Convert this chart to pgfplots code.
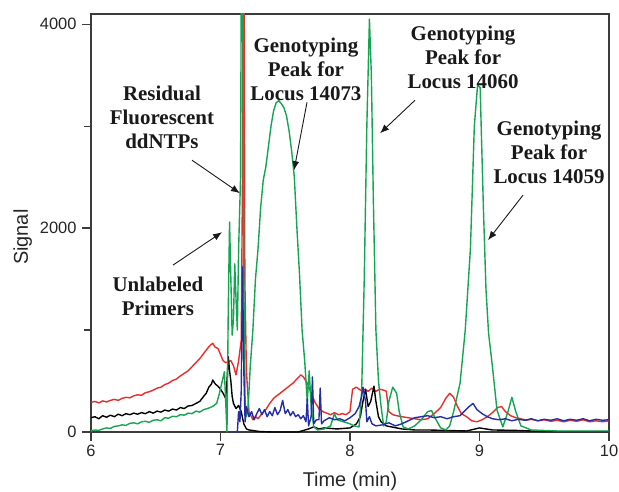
\documentclass[border=0pt]{standalone}
\usepackage{fontspec}
\setmainfont{Liberation Sans}
\newfontfamily\annfont{Liberation Serif}
\usepackage{pgfplots}
\pgfplotsset{compat=1.18}
\usetikzlibrary{arrows.meta}
\definecolor{cred}{RGB}{232,45,45}
\definecolor{cgreen}{RGB}{20,165,80}
\definecolor{cblue}{RGB}{35,45,165}
\definecolor{axc}{RGB}{60,60,60}
\begin{document}
\begin{tikzpicture}
\useasboundingbox (-91bp,-60bp) rectangle (528bp,432bp);
\begin{axis}[
  at={(0,0)}, anchor=south west,
  scale only axis, width=518bp, height=418bp,
  xmin=6, xmax=10, ymin=0, ymax=4100,
  xtick={6,7,8,9,10}, ytick={0,2000,4000}, minor ytick={1000,3000},
  tick align=outside, xtick pos=left, ytick pos=left,
  major tick length=9bp, minor tick length=7bp,
  every tick/.style={axc, line width=1.2pt},
  axis line style={axc, line width=1.4pt},
  tick label style={font=\fontsize{16.5}{16.5}\selectfont, text=black!85},
  yticklabel style={xshift=-2bp},
  /pgf/number format/assume math mode=true,
  /pgf/number format/1000 sep={},
  xlabel={Time (min)}, ylabel={Signal},
  every axis x label/.style={at={(axis description cs:0.5,-0.117)}, anchor=center, font=\fontsize{20}{20}\selectfont, text=black!85},
  every axis y label/.style={at={(axis description cs:-0.132,0.466)}, anchor=center, rotate=90, font=\fontsize{20}{20}\selectfont, text=black!85},
  every axis plot/.style={line width=1.4pt, line join=round},
  clip=true,
]
% red
\addplot[cred] coordinates {
(6.00,290)(6.03,300)(6.06,285)(6.09,305)(6.12,295)(6.15,310)(6.18,320)(6.21,310)(6.24,330)(6.27,340)(6.30,335)(6.33,355)(6.36,365)(6.39,360)(6.42,385)(6.45,395)(6.48,410)(6.51,430)(6.54,440)(6.57,465)(6.60,480)(6.63,505)(6.66,520)(6.69,550)(6.72,575)(6.75,600)(6.78,640)(6.81,680)(6.84,720)(6.87,770)(6.90,820)(6.92,850)(6.94,870)(6.96,830)(6.98,820)(7.00,760)(7.02,700)(7.04,680)(7.06,690)(7.08,700)(7.10,650)(7.12,560)(7.14,700)(7.160,900)(7.170,2500)(7.175,5000)(7.182,5000)(7.188,1500)(7.20,600)(7.22,200)(7.25,120)(7.27,150)(7.29,130)(7.32,180)(7.35,220)(7.38,280)(7.41,330)(7.44,360)(7.47,390)(7.50,420)(7.53,450)(7.56,480)(7.59,520)(7.62,560)(7.64,540)(7.67,480)(7.70,380)(7.73,290)(7.76,230)(7.79,200)(7.82,185)(7.85,170)(7.88,190)(7.91,170)(7.94,180)(7.97,170)(8.00,200)(8.02,420)(8.05,440)(8.08,410)(8.11,420)(8.14,400)(8.17,430)(8.20,400)(8.23,420)(8.26,410)(8.28,400)(8.30,200)(8.33,170)(8.36,160)(8.40,150)(8.45,140)(8.50,130)(8.55,120)(8.60,130)(8.65,180)(8.70,240)(8.74,330)(8.77,380)(8.80,340)(8.83,250)(8.86,180)(8.90,150)(8.94,110)(8.98,100)(9.02,120)(9.06,150)(9.10,190)(9.14,240)(9.17,250)(9.20,200)(9.24,160)(9.28,140)(9.32,130)(9.36,115)(9.40,125)(9.45,110)(9.50,120)(9.55,105)(9.60,115)(9.65,100)(9.70,115)(9.75,105)(9.80,120)(9.85,100)(9.90,110)(9.95,100)(10.00,110)
};
% black
\addplot[black] coordinates {
(6.00,140)(6.03,150)(6.06,130)(6.09,160)(6.12,145)(6.15,165)(6.18,150)(6.21,175)(6.24,160)(6.27,180)(6.30,170)(6.33,185)(6.36,175)(6.39,190)(6.42,180)(6.45,200)(6.48,185)(6.51,205)(6.54,195)(6.57,215)(6.60,205)(6.63,225)(6.66,215)(6.69,240)(6.72,230)(6.75,255)(6.78,260)(6.81,280)(6.84,300)(6.87,350)(6.89,380)(6.91,440)(6.93,470)(6.94,510)(6.96,470)(6.98,450)(7.00,420)(7.02,380)(7.04,330)(7.05,500)(7.06,740)(7.07,600)(7.08,500)(7.09,350)(7.10,280)(7.12,230)(7.14,260)(7.16,200)(7.18,80)(7.20,30)(7.22,20)(7.30,5)(7.40,0)(7.60,0)(7.68,30)(7.72,50)(7.76,30)(7.80,40)(7.90,30)(8.00,40)(8.05,80)(8.08,150)(8.10,300)(8.12,420)(8.14,250)(8.16,300)(8.185,450)(8.20,300)(8.22,150)(8.24,100)(8.28,60)(8.32,50)(8.36,40)(8.40,30)(8.50,20)(8.60,20)(8.90,10)(9.00,40)(9.05,30)(9.10,20)(9.30,15)(9.50,5)(10.00,5)
};
% green
\addplot[cgreen] coordinates {
(6.00,10)(6.03,20)(6.06,15)(6.09,30)(6.12,40)(6.15,35)(6.18,55)(6.21,60)(6.24,70)(6.27,65)(6.30,85)(6.33,90)(6.36,80)(6.39,100)(6.42,105)(6.45,95)(6.48,115)(6.51,120)(6.54,110)(6.57,140)(6.60,135)(6.63,155)(6.66,150)(6.69,170)(6.72,165)(6.75,185)(6.78,180)(6.81,205)(6.84,195)(6.87,220)(6.90,230)(6.93,245)(6.95,260)(6.97,280)(6.99,370)(7.01,480)(7.03,590)(7.04,300)(7.05,0)(7.06,1200)(7.07,2060)(7.08,1500)(7.09,950)(7.10,1100)(7.11,1650)(7.12,1300)(7.13,1000)(7.14,1800)(7.155,2500)(7.162,5000)(7.170,5000)(7.18,1500)(7.19,300)(7.20,150)(7.21,200)(7.22,400)(7.23,650)(7.25,1000)(7.27,1500)(7.29,1800)(7.31,2200)(7.33,2470)(7.35,2600)(7.37,2800)(7.39,3000)(7.41,3150)(7.43,3230)(7.45,3250)(7.47,3220)(7.49,3180)(7.51,3100)(7.53,2950)(7.55,2750)(7.57,2500)(7.59,2000)(7.61,1550)(7.63,1000)(7.65,700)(7.67,300)(7.685,600)(7.70,250)(7.72,50)(7.75,20)(7.80,30)(7.85,60)(7.88,180)(7.90,120)(7.95,100)(8.00,80)(8.03,60)(8.07,50)(8.09,400)(8.11,1500)(8.13,3000)(8.15,4050)(8.165,3500)(8.18,2300)(8.20,1000)(8.22,500)(8.24,250)(8.26,60)(8.28,100)(8.30,300)(8.33,440)(8.36,380)(8.38,200)(8.41,50)(8.45,30)(8.50,60)(8.55,120)(8.60,200)(8.63,210)(8.66,130)(8.70,40)(8.74,20)(8.77,60)(8.80,200)(8.85,480)(8.89,1000)(8.93,1800)(8.96,3000)(8.985,3400)(9.005,3380)(9.03,2200)(9.05,1400)(9.07,970)(9.10,640)(9.135,215)(9.18,50)(9.22,200)(9.25,340)(9.28,200)(9.32,60)(9.36,40)(9.40,20)(9.50,15)(9.60,10)(9.80,10)(10.00,10)
};
% blue
\addplot[cblue] coordinates {
(7.10,0)(7.13,0)(7.14,200)(7.15,100)(7.16,400)(7.17,1620)(7.18,600)(7.19,100)(7.20,250)(7.22,150)(7.24,200)(7.26,120)(7.28,180)(7.30,230)(7.32,170)(7.34,220)(7.36,150)(7.38,200)(7.40,160)(7.42,240)(7.44,170)(7.46,210)(7.48,310)(7.50,180)(7.52,220)(7.54,160)(7.56,200)(7.58,150)(7.60,170)(7.62,130)(7.64,160)(7.66,100)(7.67,330)(7.68,60)(7.70,150)(7.71,540)(7.72,80)(7.74,120)(7.76,120)(7.77,430)(7.78,80)(7.80,110)(7.84,140)(7.88,120)(7.92,130)(7.96,110)(8.00,140)(8.04,180)(8.07,250)(8.09,350)(8.10,440)(8.12,300)(8.13,100)(8.15,150)(8.17,80)(8.20,60)(8.25,70)(8.30,90)(8.35,60)(8.40,80)(8.45,110)(8.50,140)(8.55,150)(8.60,160)(8.65,140)(8.70,150)(8.75,130)(8.80,150)(8.85,160)(8.88,200)(8.92,250)(8.95,280)(8.98,220)(9.02,180)(9.06,150)(9.10,130)(9.15,120)(9.20,130)(9.25,110)(9.30,125)(9.35,115)(9.40,130)(9.45,110)(9.50,125)(9.55,115)(9.60,130)(9.65,110)(9.70,125)(9.75,115)(9.80,130)(9.85,110)(9.90,125)(9.95,115)(10.00,120)
};
% annotations
\begin{scope}[every node/.style={font=\annfont\bfseries\fontsize{21}{24}\selectfont, align=center, text=black!90, inner sep=0pt}]
\node at (axis cs:6.548,3087) {Residual\\Fluorescent\\ddNTPs};
\node at (axis cs:6.517,1333) {Unlabeled\\Primers};
\node at (axis cs:7.66,3557) {Genotyping\\Peak for\\Locus 14073};
\node at (axis cs:8.873,3675) {Genotyping\\Peak for\\Locus 14060};
\node at (axis cs:9.537,2744) {Genotyping\\Peak for\\Locus 14059};
\end{scope}
\begin{scope}[-{Latex[length=9bp,width=7bp]}, line width=0.9pt, black!90]
\draw (axis cs:6.78,2666) -- (axis cs:7.15,2342);
\draw (axis cs:6.633,1637) -- (axis cs:7.012,1960);
\draw (axis cs:7.668,3234) -- (axis cs:7.568,2568);
\draw (axis cs:8.502,3254) -- (axis cs:8.232,2930);
\draw (axis cs:9.336,2323) -- (axis cs:9.066,1882);
\end{scope}
\end{axis}
\end{tikzpicture}
\end{document}
